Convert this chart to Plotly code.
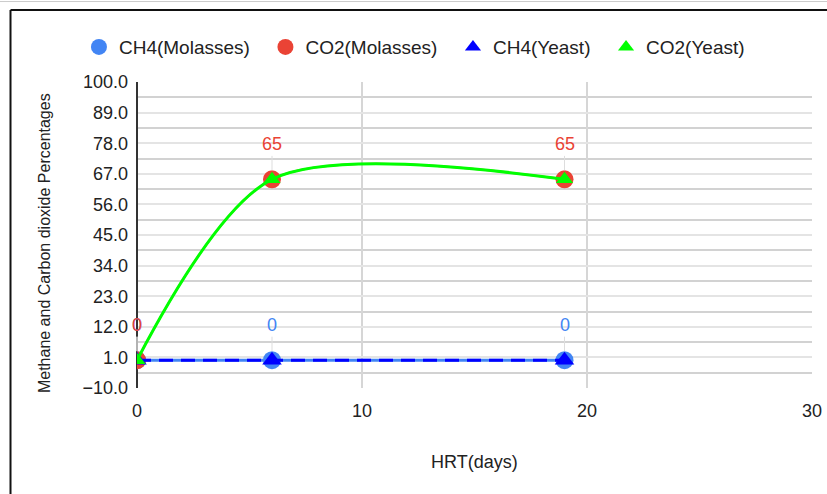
import plotly.graph_objects as go

# HRT (days) sampled in the digesters
hrt = [0, 6, 19]

# Gas composition (%) for each feedstock
ch4_molasses = [0, 0, 0]
co2_molasses = [0, 65, 65]
ch4_yeast = [0, 0, 0]
co2_yeast = [0, 65, 65]

series_names = ["CH4(Molasses)", "CO2(Molasses)", "CH4(Yeast)", "CO2(Yeast)"]
y_ticks = [-10, 1, 12, 23, 34, 45, 56, 67, 78, 89, 100]

FONT = "Liberation Sans, Arial, sans-serif"
C_CH4_MOL = "#4285F4"
C_CO2_MOL = "#EA4335"
C_CH4_YST = "#0000FF"
C_CO2_YST = "#00FF00"
SMOOTH = 0.85

fig = go.Figure()

fig.add_trace(go.Scatter(
    x=hrt, y=ch4_molasses, name=series_names[0], mode="lines+markers",
    line=dict(color=C_CH4_MOL, width=3),
    marker=dict(symbol="circle", size=18, color=C_CH4_MOL),
    showlegend=False,
))
fig.add_trace(go.Scatter(
    x=hrt, y=co2_molasses, name=series_names[1], mode="lines+markers",
    line=dict(color=C_CO2_MOL, width=2, shape="spline", smoothing=SMOOTH),
    marker=dict(symbol="circle", size=18, color=C_CO2_MOL),
    showlegend=False,
))
fig.add_trace(go.Scatter(
    x=hrt, y=ch4_yeast, name=series_names[2], mode="lines+markers",
    line=dict(color=C_CH4_YST, width=3, dash="14px,8px"),
    marker=dict(symbol="triangle-up", size=17, color=C_CH4_YST),
    showlegend=False,
))
fig.add_trace(go.Scatter(
    x=hrt, y=co2_yeast, name=series_names[3], mode="lines+markers",
    line=dict(color=C_CO2_YST, width=3, shape="spline", smoothing=SMOOTH),
    marker=dict(symbol="triangle-up", size=15, color=C_CO2_YST),
    showlegend=False,
))

# Legend entries show only the point symbol of each series
legend_symbols = [("circle", C_CH4_MOL, 16), ("circle", C_CO2_MOL, 16),
                  ("triangle-up", C_CH4_YST, 14), ("triangle-up", C_CO2_YST, 14)]
for name, (sym, col, sz) in zip(series_names, legend_symbols):
    fig.add_trace(go.Scatter(
        x=[None], y=[None], name=name + "\u00a0\u00a0", mode="markers",
        marker=dict(symbol=sym, size=sz, color=col), showlegend=True,
    ))

# Value labels with thin stems for the molasses series
annotations = []
for series, color in ((ch4_molasses, C_CH4_MOL), (co2_molasses, C_CO2_MOL)):
    for xv, yv in zip(hrt, series):
        annotations.append(dict(
            x=xv, y=yv, xref="x", yref="y", text=f"{yv:g}",
            showarrow=True, arrowhead=0, arrowwidth=1, arrowcolor="#dddddd",
            ax=0, ay=-35, standoff=9,
            font=dict(family=FONT, size=18, color=color),
        ))

annotations.append(dict(
    x=0.5007, y=-0.242, xref="paper", yref="paper", text="HRT(days)",
    showarrow=False, xanchor="center", yanchor="middle",
    font=dict(family=FONT, size=18, color="#222222"),
))
annotations.append(dict(
    x=-0.137, y=0.472, xref="paper", yref="paper",
    text="Methane and Carbon dioxide Percentages", textangle=-90,
    showarrow=False, xanchor="center", yanchor="middle",
    font=dict(family=FONT, size=16, color="#222222"),
))

fig.update_layout(
    width=827, height=494,
    margin=dict(l=137, r=15, t=82, b=106, autoexpand=False),
    paper_bgcolor="white", plot_bgcolor="white",
    font=dict(family=FONT, color="#222222"),
    showlegend=True,
    legend=dict(
        orientation="h", x=-0.086, xanchor="left", y=1.114, yanchor="middle",
        font=dict(family=FONT, size=19, color="#222222"),
        bgcolor="rgba(0,0,0,0)", itemsizing="trace",
    ),
    annotations=annotations,
    shapes=[
        dict(type="line", xref="paper", yref="paper",
             x0=-0.1874, x1=1.05, y0=1.2353, y1=1.2353,
             line=dict(color="#111111", width=2)),
        dict(type="line", xref="paper", yref="paper",
             x0=-0.1874, x1=-0.1874, y0=1.2353, y1=-0.4,
             line=dict(color="#111111", width=2)),
        dict(type="line", xref="paper", yref="paper",
             x0=-0.25, x1=1.05, y0=1.263, y1=1.263,
             line=dict(color="#cccccc", width=1)),
    ],
)

fig.update_xaxes(
    range=[0, 30], tickvals=[0, 10, 20, 30],
    showgrid=True, gridcolor="#d6d6d6", gridwidth=1.5,
    zeroline=True, zerolinecolor="#333333", zerolinewidth=1.5,
    showline=False, ticks="", ticklabelstandoff=10, automargin=False,
    tickfont=dict(family=FONT, size=18, color="#222222"),
)
fig.update_yaxes(
    range=[-10, 100], tickvals=y_ticks, tickformat=".1f",
    showgrid=True, gridcolor="#e4e4e4", gridwidth=1.5,
    minor=dict(tick0=-10, dtick=5.5, showgrid=True, gridcolor="#d2d2d2", gridwidth=1.5),
    zeroline=False, showline=False, ticks="", ticklabelstandoff=8, automargin=False,
    tickfont=dict(family=FONT, size=18, color="#222222"),
)

fig.write_html("out.html")
